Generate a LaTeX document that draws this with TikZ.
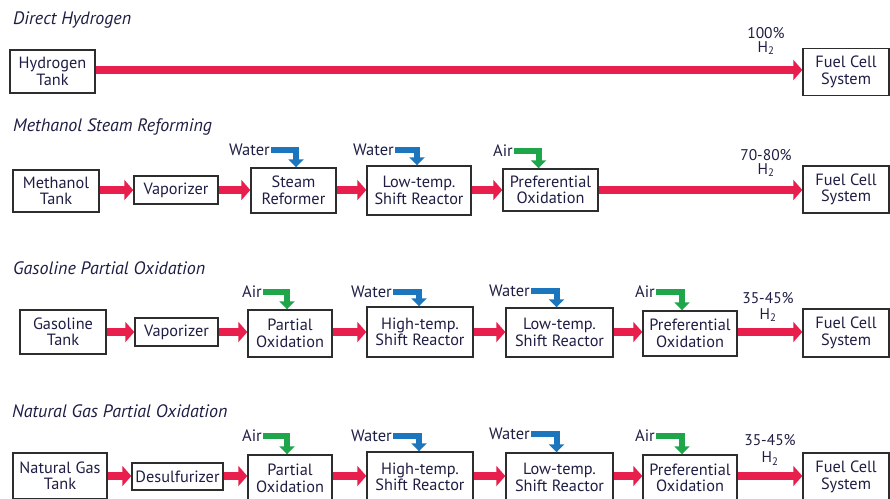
\documentclass[tikz,border=0pt]{standalone}
\usepackage{fontspec}
\setmainfont{PT Sans}
\usetikzlibrary{arrows.meta,positioning}
\definecolor{redc}{RGB}{232,30,76}
\definecolor{bluec}{RGB}{28,118,190}
\definecolor{greenc}{RGB}{32,166,74}
\definecolor{txtc}{RGB}{30,30,68}
\definecolor{boxc}{RGB}{45,45,45}
\tikzset{
  box/.style={draw=boxc, line width=1.4pt, align=center, inner sep=0pt, text=txtc,
    font=\fontsize{16.3}{16.5}\selectfont},
  title/.style={anchor=west, text=txtc, font=\fontsize{18}{19}\selectfont\itshape, inner sep=0pt},
  lbl/.style={text=txtc, font=\fontsize{16.5}{17}\selectfont, inner sep=1pt},
  pct/.style={text=txtc, font=\fontsize{15.5}{14}\selectfont, inner sep=0pt, align=center},
  flow/.style={draw=redc, line width=8pt, -{Triangle[length=9pt,width=20pt]}},
  water/.style={draw=bluec, line width=6pt, -{Triangle[length=8pt,width=15pt]}},
  air/.style={draw=greenc, line width=6pt, -{Triangle[length=8pt,width=15pt]}},
}
\begin{document}
\begin{tikzpicture}[x=1pt,y=-1pt]
\useasboundingbox (0,0) rectangle (890,498);
\clip (0,0) rectangle (890,498);
% ---------- Row 1
\node[title] (t1) at (13,20) {Direct Hydrogen};
\node[box, minimum width=85pt, minimum height=43pt] (ht) at (52.5,71.5) {Hydrogen\\Tank};
\node[box, minimum width=86pt, minimum height=47pt] (fc1) at (846,72) {Fuel Cell\\System};
\node[pct] (p1) at (766,41) {100\%\\H\textsubscript{2}};
\draw[flow] (ht.east |- 0,70) -- (fc1.west |- 0,70);
% ---------- Row 2
\node[title] (t2) at (13,127) {Methanol Steam Reforming};
\node[box, minimum width=86pt, minimum height=42pt] (mt) at (56,191) {Methanol\\Tank};
\node[box, minimum width=84pt, minimum height=28pt] (vp2) at (176,190) {Vaporizer};
\node[box, minimum width=85pt, minimum height=45pt] (sr) at (293.5,190.5) {Steam\\Reformer};
\node[box, minimum width=104pt, minimum height=49pt] (lt2) at (419,190.5) {Low-temp.\\Shift Reactor};
\node[box, minimum width=95pt, minimum height=42pt] (pr2) at (550.5,190) {Preferential\\Oxidation};
\node[box, minimum width=86pt, minimum height=47pt] (fc2) at (846,189.5) {Fuel Cell\\System};
\node[pct] (p2) at (766,163) {70-80\%\\H\textsubscript{2}};
\draw[flow] (mt.east |- 0,190) -- (vp2.west |- 0,190);
\draw[flow] (vp2.east |- 0,190) -- (sr.west |- 0,190);
\draw[flow] (sr.east |- 0,190) -- (lt2.west |- 0,190);
\draw[flow] (lt2.east |- 0,190) -- (pr2.west |- 0,190);
\draw[flow] (pr2.east |- 0,190) -- (fc2.west |- 0,190);
\node[lbl, anchor=east] (w2a) at (271,150) {Water};
\node[lbl, anchor=east] (w2b) at (395,150) {Water};
\node[lbl, anchor=east] (a2) at (514,151) {Air};
\draw[water] (w2a.east) -| ([xshift=2.5pt]sr.north);
\draw[water] (w2b.east) -| ([xshift=-2pt]lt2.north);
\draw[air] (a2.east) -| ([xshift=-12pt]pr2.north);
% ---------- Row 3
\node[title] (t3) at (13,268) {Gasoline Partial Oxidation};
\node[box, minimum width=86pt, minimum height=44pt] (gt) at (63,332) {Gasoline\\Tank};
\node[box, minimum width=83pt, minimum height=28pt] (vp3) at (176.5,332) {Vaporizer};
\node[box, minimum width=84pt, minimum height=47pt] (px3) at (290,333.5) {Partial\\Oxidation};
\node[box, minimum width=106pt, minimum height=50pt] (ht3) at (420,332) {High-temp.\\Shift Reactor};
\node[box, minimum width=107pt, minimum height=49pt] (lt3) at (559.5,332.5) {Low-temp.\\Shift Reactor};
\node[box, minimum width=94pt, minimum height=45pt] (pr3) at (690,333.5) {Preferential\\Oxidation};
\node[box, minimum width=86pt, minimum height=48pt] (fc3) at (846,333) {Fuel Cell\\System};
\node[pct] (p3) at (768,307) {35-45\%\\[2pt]H\textsubscript{2}};
\draw[flow] (gt.east |- 0,332) -- (vp3.west |- 0,332);
\draw[flow] (vp3.east |- 0,332) -- (px3.west |- 0,332);
\draw[flow] (px3.east |- 0,332) -- (ht3.west |- 0,332);
\draw[flow] (ht3.east |- 0,332) -- (lt3.west |- 0,332);
\draw[flow] (lt3.east |- 0,332) -- (pr3.west |- 0,332);
\draw[flow] (pr3.east |- 0,332) -- (fc3.west |- 0,332);
\node[lbl, anchor=east] (a3a) at (263,292) {Air};
\node[lbl, anchor=east] (w3a) at (393,292) {Water};
\node[lbl, anchor=east] (w3b) at (531,291) {Water};
\node[lbl, anchor=east] (a3b) at (656,292) {Air};
\draw[air] (a3a.east) -| ([xshift=-3pt]px3.north);
\draw[water] (w3a.east) -| ([xshift=-1pt]ht3.north);
\draw[water] (w3b.east) -| ([xshift=-3pt]lt3.north);
\draw[air] (a3b.east) -| ([xshift=-8pt]pr3.north);
% ---------- Row 4
\node[title] (t4) at (12,411) {Natural Gas Partial Oxidation};
\node[box, minimum width=94pt, minimum height=46pt] (ng) at (60,476) {Natural Gas\\Tank};
\node[box, minimum width=91pt, minimum height=27pt] (ds) at (177.5,476.5) {Desulfurizer};
\node[box, minimum width=84pt, minimum height=47pt] (px4) at (290,478.5) {Partial\\Oxidation};
\node[box, minimum width=106pt, minimum height=50pt] (ht4) at (420,477) {High-temp.\\Shift Reactor};
\node[box, minimum width=107pt, minimum height=49pt] (lt4) at (559.5,477.5) {Low-temp.\\Shift Reactor};
\node[box, minimum width=94pt, minimum height=46pt] (pr4) at (690,478) {Preferential\\Oxidation};
\node[box, minimum width=86pt, minimum height=48pt] (fc4) at (846,477) {Fuel Cell\\System};
\node[pct] (p4) at (770,450) {35-45\%\\[3pt]H\textsubscript{2}};
\draw[flow] (ng.east |- 0,476) -- (ds.west |- 0,476);
\draw[flow] (ds.east |- 0,476) -- (px4.west |- 0,476);
\draw[flow] (px4.east |- 0,476) -- (ht4.west |- 0,476);
\draw[flow] (ht4.east |- 0,476) -- (lt4.west |- 0,476);
\draw[flow] (lt4.east |- 0,476) -- (pr4.west |- 0,476);
\draw[flow] (pr4.east |- 0,476) -- (fc4.west |- 0,476);
\node[lbl, anchor=east] (a4a) at (263,436) {Air};
\node[lbl, anchor=east] (w4a) at (393,436) {Water};
\node[lbl, anchor=east] (w4b) at (531,434) {Water};
\node[lbl, anchor=east] (a4b) at (656,436) {Air};
\draw[air] (a4a.east) -| ([xshift=-3pt]px4.north);
\draw[water] (w4a.east) -| ([xshift=-1pt]ht4.north);
\draw[water] (w4b.east) -| ([xshift=-3pt]lt4.north);
\draw[air] (a4b.east) -| ([xshift=-8pt]pr4.north);
\end{tikzpicture}
\end{document}
